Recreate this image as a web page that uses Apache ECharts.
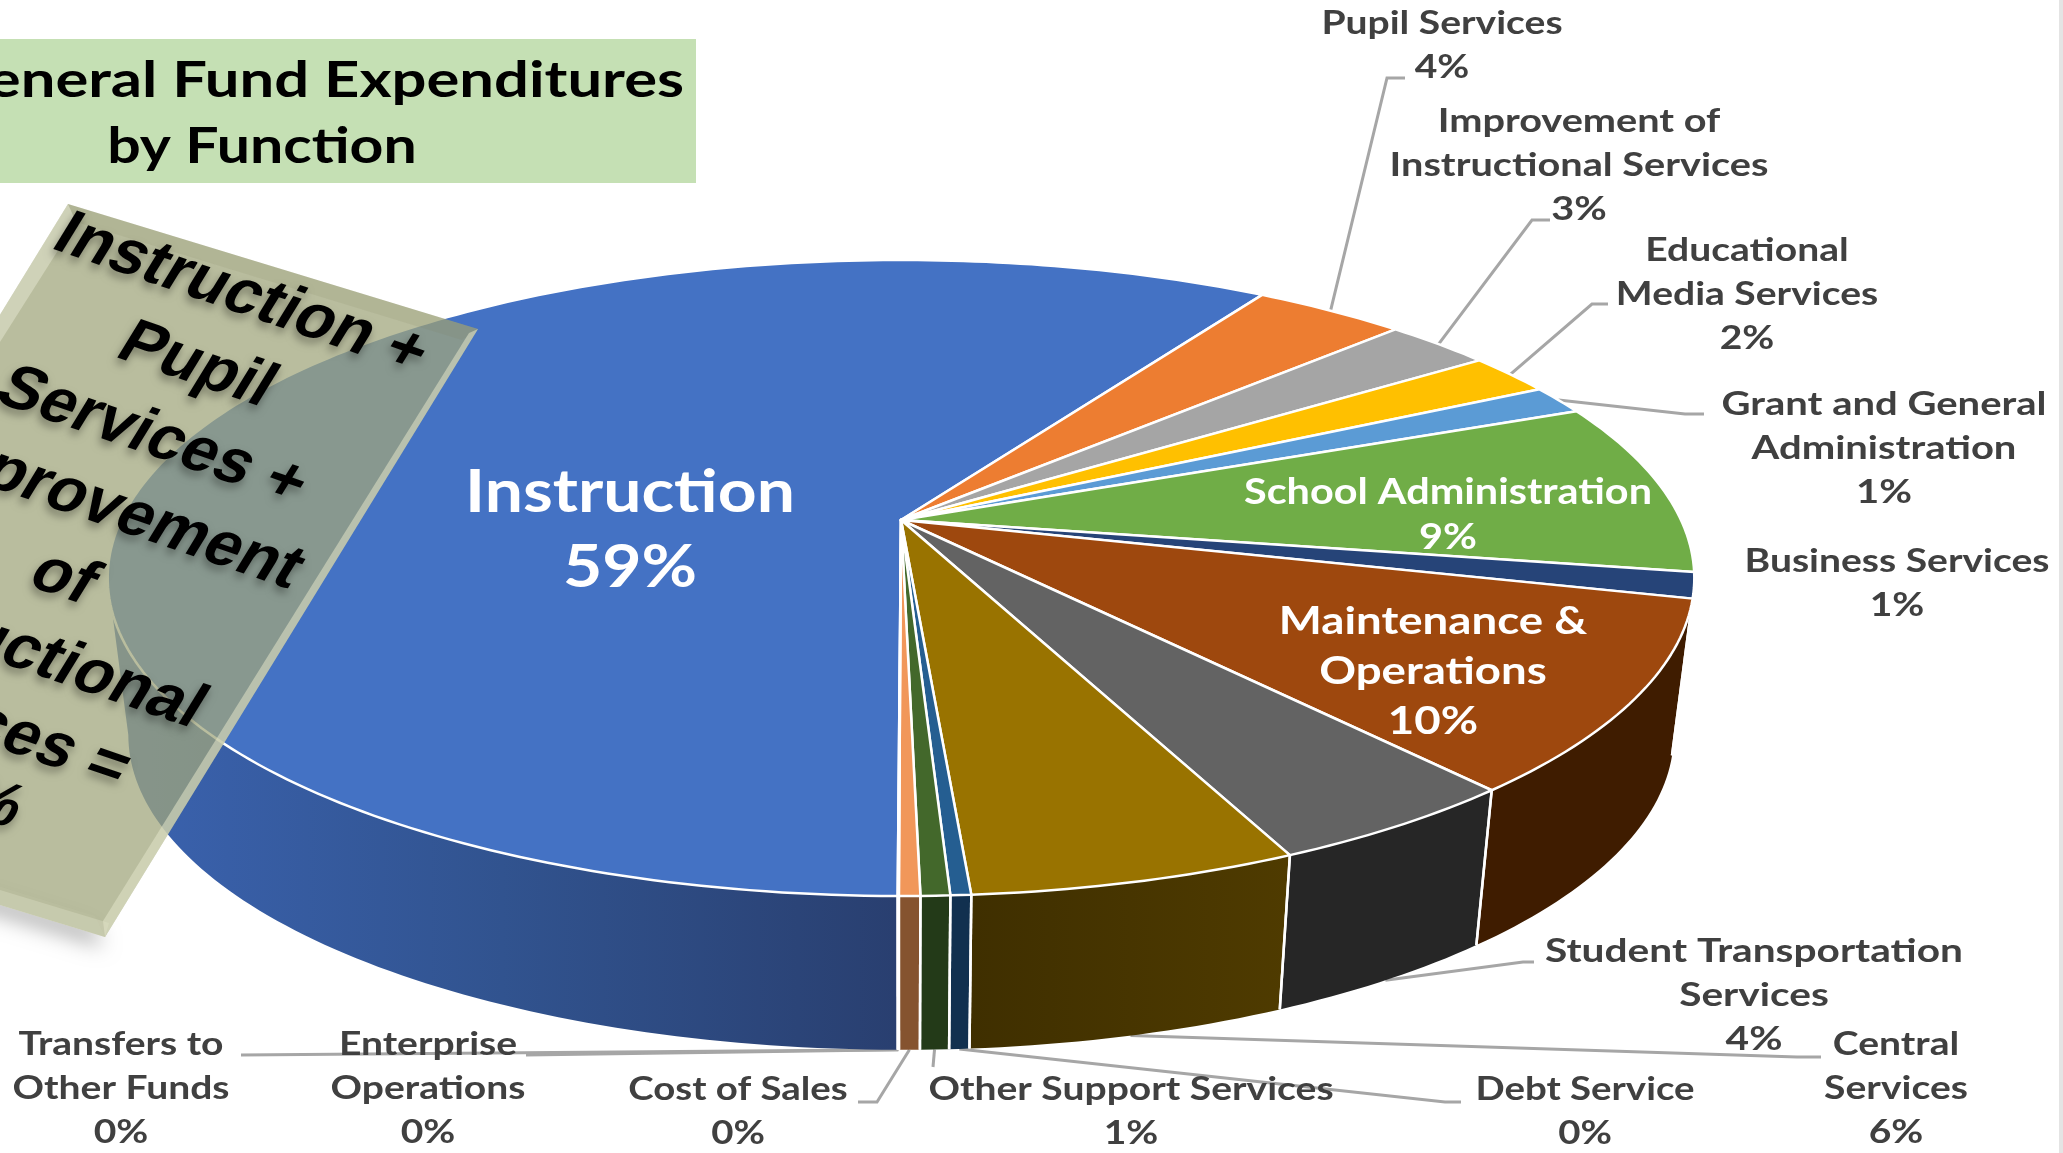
<!DOCTYPE html>
<html>
<head>
<meta charset="utf-8">
<title>General Fund Expenditures by Function</title>
<script src="https://cdn.jsdelivr.net/npm/echarts@6/dist/echarts.min.js"></script>
<style>
html, body { margin: 0; padding: 0; background: #fff; overflow: hidden; }
#chart { width: 2063px; height: 1153px; }
</style>
</head>
<body>
<div id="chart"></div>
<script>
// values, in clockwise order
let categories = ['Instruction', 'Pupil Services', 'Improvement of\nInstructional Services', 'Educational\nMedia Services',
    'Grant and General\nAdministration', 'School Administration', 'Business Services', 'Maintenance &\nOperations',
    'Student Transportation\nServices', 'Central\nServices', 'Debt Service', 'Other Support Services', 'Cost of Sales',
    'Enterprise\nOperations', 'Transfers to\nOther Funds'];
let shares = [58.9, 3.7, 2.6, 2.1, 1.45, 8.8, 1.3, 9.75, 4.49, 5.65, 0.35, 0.5, 0.36, 0.01, 0.01];

let topColors = ['#4472C4', '#ED7D31', '#A5A5A5', '#FFC000', '#5B9BD5', '#70AD47', '#264478', '#9E480E', '#636363', '#997300', '#255E91', '#43682B', '#F1975A', '#7C7C7C', '#B7B7B7'];
let wallColors = ['#2f4f8e', '#8a4a1a', '#5c5c5c', '#8f6b00', '#33567a', '#3f6127', '#10233f', '#3f1c00', '#262626', '#463400', '#11304f', '#233a18', '#85532f', '#444444', '#666666'];

// label centre x, first line y, line gap, font size, colour, horizontal stretch
let labelLayout = [
    [630, 493, 75, 60, '#fff', 1.13], [1442, 24, 44, 32, '#404040', 1.22], [1579, 122, 44, 32, '#404040', 1.24], [1747, 251, 44, 32, '#404040', 1.22],
    [1884, 405, 44, 32, '#404040', 1.25], [1448, 492, 45, 36, '#fff', 1.15], [1897, 562, 44, 32, '#404040', 1.22], [1433, 622, 50, 38, '#fff', 1.2],
    [1754, 952, 44, 32, '#404040', 1.27], [1896, 1045, 44, 32, '#404040', 1.22], [1585, 1090, 44, 32, '#404040', 1.2], [1131, 1090, 44, 32, '#404040', 1.22],
    [738, 1090, 44, 32, '#404040', 1.2], [428, 1045, 44, 32, '#404040', 1.22], [121, 1045, 44, 32, '#404040', 1.22]
];
// leader line bends, null when the label sits on the slice
let leaderBends = [
    null, [[1387, 78], [1405, 78]], [[1532, 220], [1550, 220]], [[1592, 304], [1608, 304]], [[1685, 414], [1704, 414]],
    null, null, null, [[1523, 962], [1534, 962]], [[1797, 1057], [1821, 1057]], [[1445, 1102], [1461, 1102]],
    [[933, 1067]], [[877, 1102], [858, 1102]], [[526, 1055]], [[241, 1055]]
];

let cardLines = ['Instruction +', 'Pupil', 'Services +', 'Improvement', 'of', 'Instructional', 'Services =', '66%'];

// perspective of the disc: true angle on the circle to screen position
const CX = 901, APEX_Y = 520, RX = 780, RY = 307.4, K = 0.1824;
const TOP_CY = 578, WALL_CY = 735, WALL_SX = 0.974, WALL_SY = 0.99;
const START = 180.2, EDGE_L = 259.5, EDGE_R = 100.5;

function project(deg, onWall) {
    let t = deg * Math.PI / 180;
    let X = Math.sin(t), Y = -Math.cos(t);
    let w = 1 - K * Y;
    let x = CX + RX * X / w, y = APEX_Y + RY * Y / w;
    if (onWall) {
        x = CX + (x - CX) * WALL_SX;
        y = WALL_CY + (y - TOP_CY) * WALL_SY;
    }
    return [x, y];
}

let total = shares.reduce((a, b) => a + b, 0);
let spans = [];
let acc = START;
shares.forEach(function (v) {
    let end = acc + v / total * 360;
    spans.push([acc, end]);
    acc = end;
});

function arcPoints(from, to, onWall) {
    let pts = [];
    let n = Math.max(2, Math.ceil(Math.abs(to - from)));
    for (let i = 0; i <= n; i++) {
        pts.push(project(from + (to - from) * i / n, onWall));
    }
    return pts;
}

// only the front of the wall can be seen, so keep to that range
function wallRange(i) {
    let a = spans[i][0] % 360, b = a + (spans[i][1] - spans[i][0]);
    let from = Math.max(a, EDGE_R), to = Math.min(b, EDGE_L);
    return to > from ? [from, to] : null;
}

function renderWall(params) {
    let i = params.dataIndex;
    let r = wallRange(i);
    let children = [];
    if (r) {
        let pts = arcPoints(r[0], r[1], false).concat(arcPoints(r[1], r[0], true));
        let fill = wallColors[i];
        if (i === 0) {
            fill = new echarts.graphic.LinearGradient(0, 0, 1, 0, [
                {offset: 0, color: '#3b63b0'}, {offset: 0.5, color: '#31538f'}, {offset: 1, color: '#293f70'}]);
        }
        if (i === 9) {
            fill = new echarts.graphic.LinearGradient(0, 0, 1, 0, [
                {offset: 0, color: '#3f2f00'}, {offset: 1, color: '#4f3b00'}]);
        }
        children.push({type: 'polygon', shape: {points: pts}, style: {fill: fill}});
        [spans[i][0] % 360, spans[i][1] % 360].forEach(function (d) {
            if (d > EDGE_R && d < EDGE_L) {
                let p = project(d, false), q = project(d, true);
                children.push({type: 'line', z2: 2, shape: {x1: p[0], y1: p[1], x2: q[0], y2: q[1]}, style: {stroke: '#fff', lineWidth: 2.5}});
            }
        });
    }
    return {type: 'group', children: children};
}

function renderFace(params) {
    let i = params.dataIndex;
    let pts = [[CX, APEX_Y]].concat(arcPoints(spans[i][0], spans[i][1], false));
    return {type: 'polygon', shape: {points: pts}, style: {fill: topColors[i], stroke: '#fff', lineWidth: 2.5, lineJoin: 'round'}};
}

function renderLeader(params) {
    let i = params.dataIndex;
    if (!leaderBends[i]) return {type: 'group', children: []};
    let mid = ((spans[i][0] + spans[i][1]) / 2) % 360;
    let start = project(mid, mid > EDGE_R && mid < EDGE_L);
    return {
        type: 'polyline',
        shape: {points: [start].concat(leaderBends[i])},
        style: {fill: null, stroke: '#a6a6a6', lineWidth: 3}
    };
}

function renderLabel(params) {
    let i = params.dataIndex;
    let l = labelLayout[i];
    let lines = categories[i].split('\n').concat(Math.round(shares[i] / total * 100) + '%');
    return {
        type: 'group',
        children: lines.map(function (txt, n) {
            return {
                type: 'text',
                x: l[0], y: l[1] + n * l[2], scaleX: l[5],
                style: {
                    x: 0, y: 0, text: txt, fill: l[4],
                    font: '700 ' + l[3] + 'px Lato', textAlign: 'center', textVerticalAlign: 'middle'
                }
            };
        })
    };
}

function customSeries(render, z) {
    return {type: 'custom', coordinateSystem: 'none', renderItem: render, data: shares, z: z, silent: true, animation: false, clip: false};
}

// tilted note over the left of the pie
const CARD = [[68, 204], [478, 329], [105, 937], [-305, 812]];
const CARD_IN = [[76, 222], [462, 340], [95, 916], [-289, 798]];

function cardElements() {
    let els = [];
    els.push({type: 'polygon', z: 20, shape: {points: [CARD[2], CARD[3], CARD_IN[3], CARD_IN[2]]},
        style: {fill: '#fff', shadowColor: 'rgba(0,0,0,0.3)', shadowBlur: 20, shadowOffsetX: -2, shadowOffsetY: 10}});
    els.push({type: 'polygon', z: 21, shape: {points: CARD}, style: {fill: 'rgba(161,166,124,0.74)'}});
    els.push({type: 'polygon', z: 22, shape: {points: [CARD[0], CARD[1], CARD_IN[1], CARD_IN[0]]}, style: {fill: 'rgba(120,124,90,0.12)'}});
    els.push({type: 'polygon', z: 22, shape: {points: [CARD[0], CARD_IN[0], CARD_IN[3], CARD[3]]}, style: {fill: 'rgba(235,236,215,0.45)'}});
    els.push({type: 'polygon', z: 22, shape: {points: [CARD[2], CARD[3], [CARD[3][0] + 2, CARD[3][1] - 14], [CARD[2][0] + 4, CARD[2][1] - 14]]}, style: {fill: 'rgba(215,218,190,0.45)'}});
    els.push({type: 'polygon', z: 22, shape: {points: [CARD[1], CARD[2], [CARD[2][0] - 2, CARD[2][1] - 16], [CARD[1][0] - 9, CARD[1][1] + 4]]}, style: {fill: 'rgba(225,228,200,0.55)'}});
    cardLines.forEach(function (txt, n) {
        // the last line sits further right in the picture
        let shift = n === cardLines.length - 1 ? 28 : 0;
        els.push({
            type: 'text', z: 23,
            x: 241 - 44.4 * n + shift, y: 295 + 71 * n,
            rotation: -19 * Math.PI / 180,
            skewX: -0.22,
            style: {
                x: 0, y: 0, text: txt, fill: '#000',
                font: 'bold 64px "Liberation Sans"', textAlign: 'center', textVerticalAlign: 'middle',
                textShadowColor: 'rgba(0,0,0,0.35)', textShadowBlur: 8, textShadowOffsetX: -2, textShadowOffsetY: 5
            }
        });
    });
    return els;
}

let chart = echarts.init(document.getElementById('chart'));
chart.setOption({
    animation: false,
    backgroundColor: '#fff',
    series: [
        customSeries(renderLeader, 1),
        customSeries(renderWall, 2),
        customSeries(renderFace, 3),
        customSeries(renderLabel, 4)
    ],
    graphic: {
        elements: [
            {type: 'rect', z: 5, shape: {x: 0, y: 39, width: 696, height: 144}, style: {fill: '#C5E0B4'}},
            {type: 'text', z: 6, x: 684, y: 81, scaleX: 1.23, style: {x: 0, y: 0, text: 'General Fund Expenditures', fill: '#000', font: '700 50px Lato', textAlign: 'right', textVerticalAlign: 'middle'}},
            {type: 'text', z: 6, x: 262, y: 147, scaleX: 1.18, style: {x: 0, y: 0, text: 'by Function', fill: '#000', font: '700 50px Lato', textAlign: 'center', textVerticalAlign: 'middle'}},
            {type: 'rect', z: 6, shape: {x: 2059, y: 0, width: 4, height: 1153}, style: {fill: '#e4e4e4'}}
        ].concat(cardElements())
    }
});
</script>
</body>
</html>
